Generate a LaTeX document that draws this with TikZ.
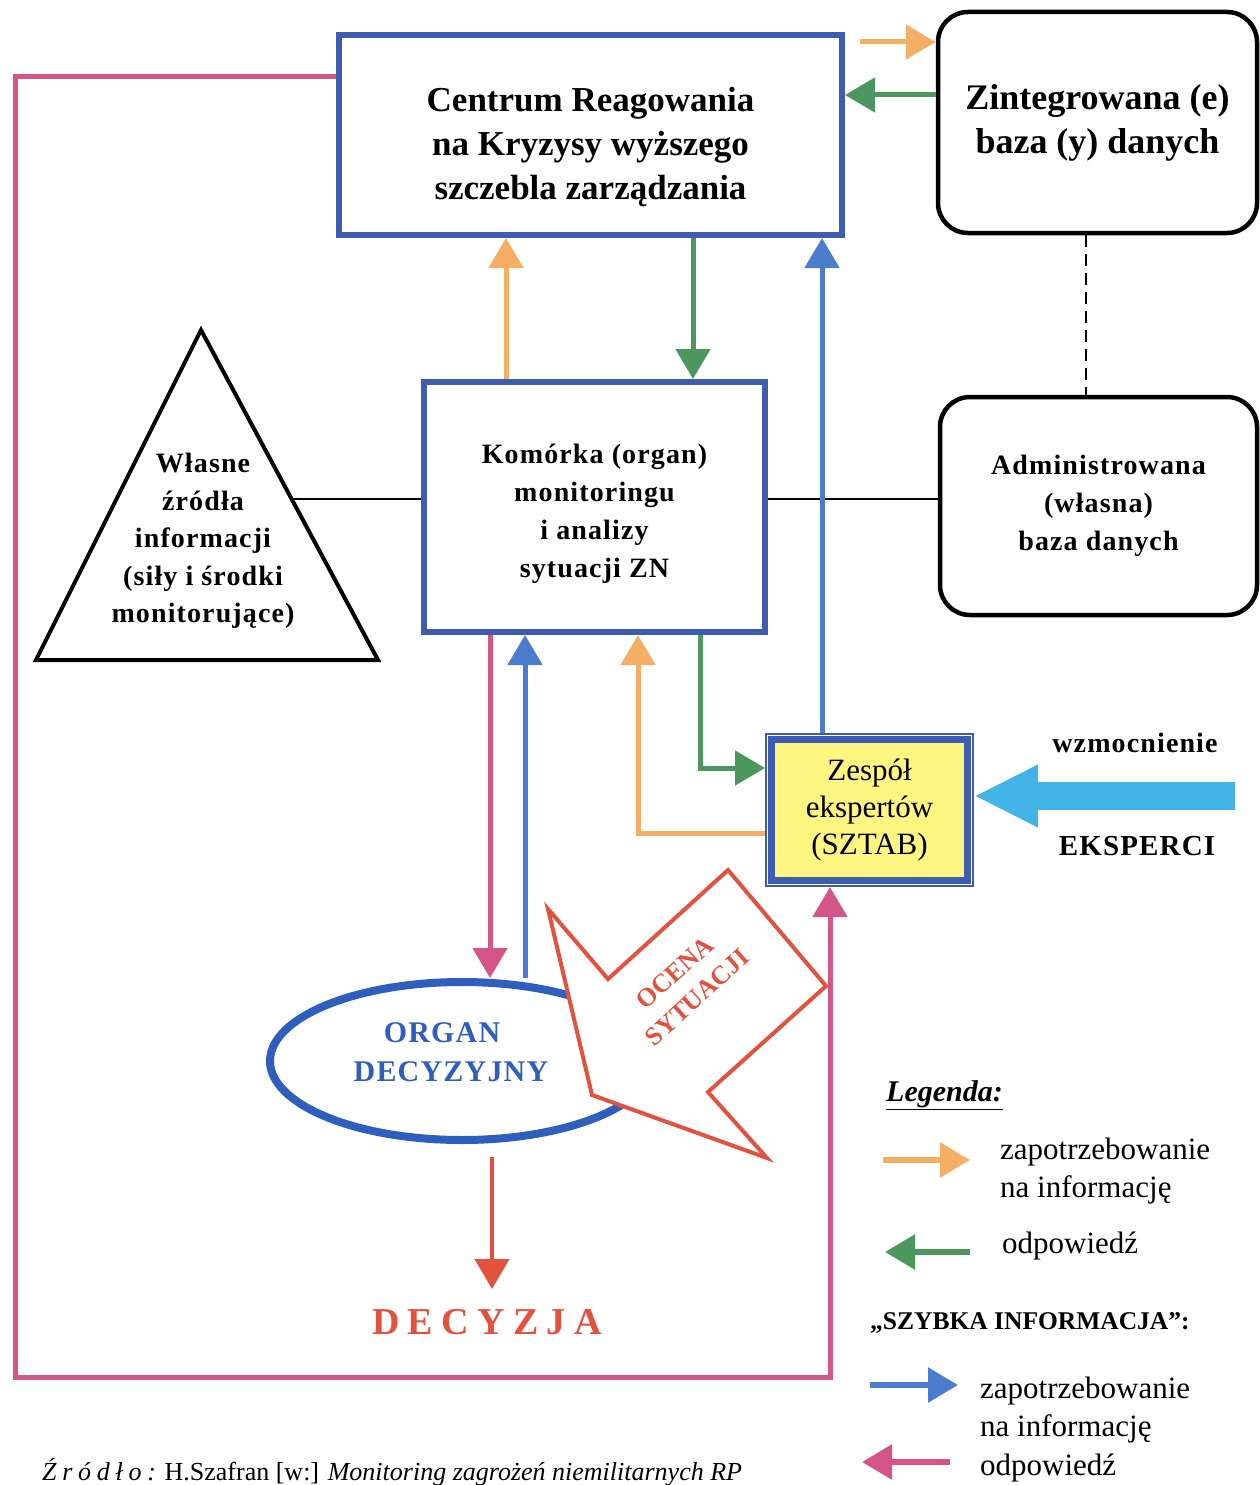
\documentclass[tikz,border=0pt]{standalone}
\usepackage{fontspec}
\setmainfont{Liberation Serif}
\newfontfamily\boxfont[LetterSpace=4]{Liberation Serif}
\newfontfamily\widefont[LetterSpace=22]{Liberation Serif}
\newfontfamily\srcfont[LetterSpace=22]{Liberation Serif}
\usepackage{tikz}
\usetikzlibrary{positioning}
\usetikzlibrary{arrows.meta}
\usetikzlibrary{shapes.geometric}
\usetikzlibrary{math}
\usetikzlibrary{calc}

\definecolor{boxblue}{RGB}{62,92,176}
\definecolor{organblue}{RGB}{46,94,190}
\definecolor{reqorange}{RGB}{245,175,100}
\definecolor{respgreen}{RGB}{76,150,96}
\definecolor{quickblue}{RGB}{76,124,206}
\definecolor{quickpink}{RGB}{212,86,136}
\definecolor{decred}{RGB}{226,82,62}
\definecolor{boostblue}{RGB}{66,180,230}
\definecolor{sztabyellow}{RGB}{255,246,130}

\tikzset{
  unitbox/.style={rectangle, draw=boxblue, line width=\lwbox pt, align=center,
    font=\boxfont\bfseries\fontsize{28}{38}\selectfont},
  basebox/.style={rectangle, rounded corners=30pt, draw=black, line width=4.5pt,
    align=center, font=\boxfont\bfseries\fontsize{28}{38}\selectfont},
  sztabfill/.style={rectangle, draw=boxblue, line width=7pt, fill=sztabyellow},
  sztabframe/.style={rectangle, draw=boxblue, line width=2pt, align=center,
    font=\fontsize{31}{37}\selectfont},
  organ/.style={ellipse, draw=organblue, line width=8pt, text=organblue,
    align=center, font=\boxfont\bfseries\fontsize{30}{39}\selectfont},
  reqarrow/.style={->, draw=reqorange, line width=\lwarrow pt},
  resparrow/.style={->, draw=respgreen, line width=\lwarrow pt},
  quickreq/.style={->, draw=quickblue, line width=\lwarrow pt},
  quickresp/.style={->, draw=quickpink, line width=\lwarrow pt},
  decarrow/.style={->, draw=decred, line width=4pt},
  boostarrow/.style={-{Triangle[length=64pt,width=58pt]}, draw=boostblue,
    line width=28pt},
  plainlink/.style={draw=black, line width=\lwthin pt},
  legtext/.style={anchor=west, inner sep=0pt, align=left,
    font=\fontsize{31}{38}\selectfont},
}

\begin{document}
\begin{tikzpicture}[
  x=1pt, y=-1pt,
  >={Triangle[length=30pt,width=34pt]},
]

  \tikzmath{
    \lwbox   = 6;   % line width of the blue frames
    \lwarrow = 5;   % line width of the arrows
    \lwthin  = 1.5; % line width of the plain links
  }

  \useasboundingbox (0,0) rectangle (1259,1485);

  \coordinate (ccentrum) at ( 590.5,  135.0 );
  \coordinate (czint)    at (1097.5,  122.5 );
  \coordinate (cadmin)   at (1098.5,  506.0 );
  \coordinate (ckomorka) at ( 594.5,  507.0 );
  \coordinate (csztab)   at ( 869.5,  810.0 );
  \coordinate (corgan)   at ( 462.0, 1061.0 );

  \coordinate (tapex)  at ( 201, 330 );
  \coordinate (tleft)  at (  36, 660 );
  \coordinate (tright) at ( 378, 660 );
  \coordinate (tside)  at ($(tapex)!0.512!(tright)$);

  \coordinate (xkreq)   at ( 506, 0 );
  \coordinate (xcresp)  at ( 693, 0 );
  \coordinate (xsquick) at ( 822, 0 );
  \coordinate (xodown)  at ( 490, 0 );
  \coordinate (xoup)    at ( 525, 0 );
  \coordinate (xsreq)   at ( 638, 0 );
  \coordinate (xsresp)  at ( 700, 0 );
  \coordinate (xdec)    at ( 492, 0 );
  \coordinate (xdash)   at (1086, 0 );
  \coordinate (ysreq)   at ( 0, 833 );
  \coordinate (ysresp)  at ( 0, 768 );
  \coordinate (ytopreq) at ( 0,  42 );
  \coordinate (ytopresp) at ( 0, 95 );
  \coordinate (pinkA)   at (  15,   77 );
  \coordinate (pinkB)   at ( 830, 1377 );
  \coordinate (kboost)  at (1235,  796 );

  % Boxes
  \node[unitbox, minimum width=503pt, minimum height=200pt,
    font=\bfseries\fontsize{35}{44}\selectfont] (centrum) at (ccentrum)
    {\rule{0pt}{48pt}Centrum Reagowania\\na Kryzysy wyższego\\szczebla zarządzania};
  \node[basebox, minimum width=319pt, minimum height=221pt,
    font=\bfseries\fontsize{36}{44}\selectfont] (zint) at (czint)
    {Zintegrowana (e)\\baza (y) danych};
  \node[basebox, minimum width=317pt, minimum height=218pt] (admin) at (cadmin)
    {Administrowana\\(własna)\\baza danych};
  \node[unitbox, minimum width=341pt, minimum height=250pt] (komorka) at (ckomorka)
    {\rule{0pt}{34pt}Komórka (organ)\\monitoringu\\i analizy\\sytuacji ZN};

  % Own sources triangle
  \draw[line width=4pt] (tapex) -- (tright) -- (tleft) -- cycle;
  \node[align=center, font=\boxfont\bfseries\fontsize{28}{37.5}\selectfont]
    (zrodla) at (203, 541)
    {Własne\\źródła\\informacji\\(siły i środki\\monitorujące)};

  % Expert team
  \node[sztabfill, minimum width=196pt, minimum height=141pt] (sztabin) at (csztab) {};
  \node[sztabframe, minimum width=207pt, minimum height=152pt] (sztab) at (csztab)
    {Zespół\\ekspertów\\(SZTAB)};

  % Decision body and assessment arrow
  \node[organ, minimum width=384pt, minimum height=158pt] (organ) at (corgan)
    {ORGAN\hspace*{40pt}\\DECYZYJNY\hspace*{22pt}\rule[-18pt]{0pt}{18pt}};
  \draw[draw=decred, fill=white, line width=4pt]
    (548,909) -- (608,979) -- (728,870) -- (826,986)
    -- (708,1092) -- (767,1158) -- (592,1095) -- cycle;
  \node[rotate=42, text=decred, align=center,
    font=\bfseries\fontsize{26}{33}\selectfont] (ocena) at (686,985)
    {OCENA\\SYTUACJI};

  \node[text=decred, inner sep=2pt, font=\widefont\bfseries\fontsize{38}{44}\selectfont]
    (decyzja) at (487,1322) {DECYZJA};

  % Experts reinforcement
  \node[font=\boxfont\bfseries\fontsize{28}{34}\selectfont] (wzmoc) at (1135,743) {wzmocnienie};
  \node[font=\boxfont\bfseries\fontsize{29}{34}\selectfont] (eksperci) at (1137,846) {EKSPERCI};
  \draw[boostarrow] (kboost) -- (kboost -| sztab.east);

  % Plain links
  \draw[plainlink] (tside) -- (tside -| komorka.west);
  \draw[plainlink] (tside -| komorka.east) -- (tside -| admin.west);
  \draw[plainlink, dash pattern=on 12pt off 7pt] (xdash |- zint.south) -- (xdash |- admin.north);

  % Requests and responses
  \draw[reqarrow, shorten <=15pt] (centrum.east |- ytopreq) -- (zint.west |- ytopreq);
  \draw[resparrow] (zint.west |- ytopresp) -- (centrum.east |- ytopresp);
  \draw[reqarrow] (xkreq |- komorka.north) -- (xkreq |- centrum.south);
  \draw[resparrow] (xcresp |- centrum.south) -- (xcresp |- komorka.north);
  \draw[reqarrow] (sztab.west |- ysreq) -| (xsreq |- komorka.south);
  \draw[resparrow] (xsresp |- komorka.south) |- (sztab.west |- ysresp);

  % Quick information
  \draw[quickreq] (xsquick |- sztab.north) -- (xsquick |- centrum.south);
  \draw[quickresp] (xodown |- komorka.south) -- (xodown |- organ.north);
  \draw[quickreq] (xoup |- organ.north) -- (xoup |- komorka.south);
  \draw[quickresp] (centrum.west |- pinkA) -- (pinkA) |- (pinkB) -- (pinkB |- sztab.south);

  % Decision
  \draw[decarrow, shorten <=13pt, shorten >=18pt] (xdec |- organ.south) -- (xdec |- decyzja.north);

  % Legend
  \node[anchor=west, inner sep=0pt, font=\bfseries\itshape\fontsize{30}{36}\selectfont]
    (legenda) at (886,1095) {\underline{Legenda:}};
  \coordinate (lreqA)  at (883,1160);
  \coordinate (lreqB)  at (970,1160);
  \coordinate (lrespA) at (970,1252);
  \coordinate (lrespB) at (885,1252);
  \coordinate (lqreqA)  at (870,1385);
  \coordinate (lqreqB)  at (958,1385);
  \coordinate (lqrespA) at (950,1462);
  \coordinate (lqrespB) at (862,1462);
  \draw[reqarrow, line width=6pt] (lreqA) -- (lreqB);
  \draw[resparrow, line width=6pt] (lrespA) -- (lrespB);
  \draw[quickreq, line width=6pt] (lqreqA) -- (lqreqB);
  \draw[quickresp, line width=6pt] (lqrespA) -- (lqrespB);
  \node[legtext] (lreqtext) at (1000,1171) {zapotrzebowanie\\na informację};
  \node[legtext] (lresptext) at (1002,1246) {odpowiedź};
  \node[anchor=west, inner sep=0pt, font=\bfseries\fontsize{25.5}{30}\selectfont]
    (szybka) at (870,1323) {„SZYBKA INFORMACJA”:};
  \node[legtext] (lqreqtext) at (980,1410) {zapotrzebowanie\\na informację};
  \node[legtext] (lqresptext) at (980,1468) {odpowiedź};

  % Source
  \node[anchor=base west, inner sep=0pt, font=\fontsize{26}{30}\selectfont] (zrodlo) at (42,1480)
    {{\srcfont\itshape Źródło:} H.Szafran [w:] \textit{Monitoring zagrożeń niemilitarnych RP}};

\end{tikzpicture}
\end{document}
